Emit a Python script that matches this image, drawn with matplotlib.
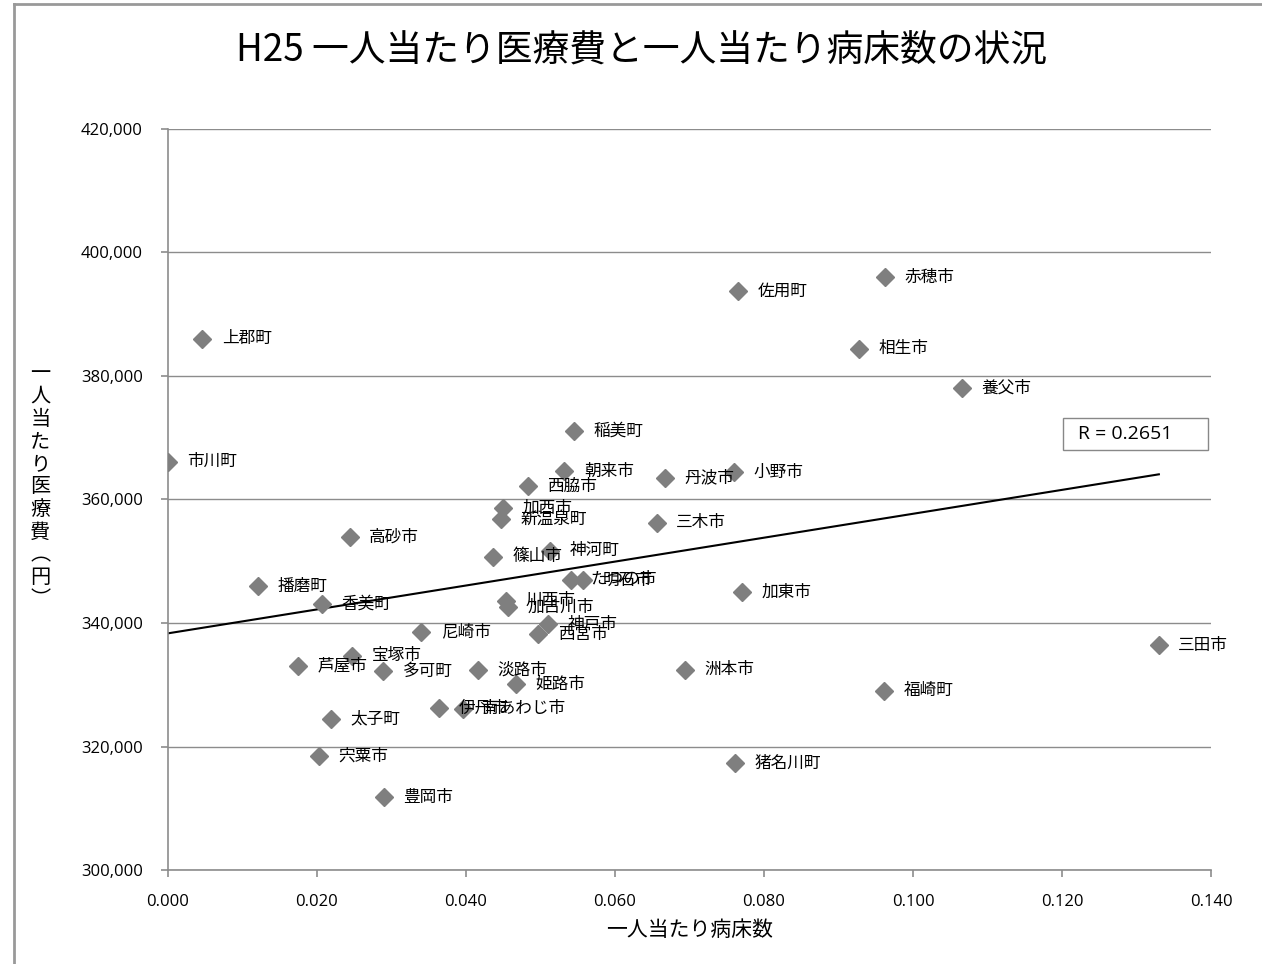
import numpy as np
import matplotlib
matplotlib.use('Agg')
import matplotlib.pyplot as plt
from matplotlib.lines import Line2D
from matplotlib.patches import Rectangle
from matplotlib.ticker import FuncFormatter

plt.rcParams['font.family'] = ['Noto Sans CJK JP', 'DejaVu Sans']

# data: beds per person, medical cost per person (yen)
towns = ['上郡町', '市川町', '播磨町', '香美町', '高砂市', '芦屋市', '宝塚市', '多可町',
         '太子町', '宍粟市', '豊岡市', '尼崎市', '伊丹市', '南あわじ市', '淡路市', '姫路市',
         '篠山市', '加西市', '新温泉町', '西脇市', '朝来市', '稲美町', '神河町', 'たつの市',
         '明石市', '川西市', '加古川市', '神戸市', '西宮市', '丹波市', '小野市', '三木市',
         '加東市', '洲本市', '佐用町', '赤穂市', '相生市', '養父市', '福崎町', '猪名川町', '三田市']
beds = [0.0046, 0.0000, 0.0121, 0.0207, 0.0244, 0.0175, 0.0247, 0.0289,
        0.0219, 0.0203, 0.0290, 0.0340, 0.0364, 0.0396, 0.0416, 0.0467,
        0.0436, 0.0450, 0.0447, 0.0483, 0.0532, 0.0545, 0.0513, 0.0541,
        0.0557, 0.0454, 0.0456, 0.0510, 0.0497, 0.0667, 0.0760, 0.0656,
        0.0770, 0.0694, 0.0765, 0.0962, 0.0928, 0.1066, 0.0961, 0.0761, 0.1330]
cost = [386000, 366100, 346000, 343100, 353900, 333000, 334700, 332200,
        324500, 318500, 311800, 338500, 326200, 326100, 332400, 330100,
        350700, 358600, 356800, 362200, 364600, 371100, 351700, 347000,
        346900, 343600, 342600, 339800, 338200, 363500, 364400, 356200,
        345000, 332400, 393800, 396000, 384400, 378100, 329000, 317300, 336400]
r_label = 'R = 0.2651'

fig = plt.figure(figsize=(12.62, 9.64), dpi=100)
ax = fig.add_axes([0.1331, 0.0975, 0.8265, 0.7687])

ax.plot(beds, cost, linestyle='none', marker='D', markersize=9,
        color='#7f7f7f', zorder=3)
for name, x, y in zip(towns, beds, cost):
    ax.annotate(name, (x, y), xytext=(14, 0), textcoords='offset points',
                va='center', ha='left', fontsize=12, zorder=4)

# linear trendline
slope, icpt = np.polyfit(beds, cost, 1)
xs = np.array([0, max(beds)])
ax.plot(xs, icpt + slope * xs, color='black', lw=1.5, zorder=2)

# R box
ax.add_patch(Rectangle((0.858, 0.567), 0.139, 0.043, transform=ax.transAxes,
                       fc='white', ec='#888888', lw=1, zorder=5, clip_on=False))
ax.text(0.872, 0.5885, r_label, transform=ax.transAxes, fontsize=14,
        family=['Open Sans', 'DejaVu Sans'], ha='left', va='center', zorder=6)

ax.set_xlim(0, 0.14)
ax.set_ylim(300000, 420000)
ax.set_xticks(np.arange(0, 0.1401, 0.02))
ax.set_yticks(np.arange(300000, 420001, 20000))
ax.xaxis.set_major_formatter(FuncFormatter(lambda v, p: f'{v:.3f}'))
ax.yaxis.set_major_formatter(FuncFormatter(lambda v, p: f'{v:,.0f}'))
ax.grid(axis='y', color='#8c8c8c', lw=1)
ax.set_axisbelow(True)
for s in ['top', 'right']:
    ax.spines[s].set_visible(False)
for s in ['left', 'bottom']:
    ax.spines[s].set_color('#8c8c8c')
    ax.spines[s].set_linewidth(1.2)
ax.tick_params(colors='#8c8c8c', length=5, width=1.2, labelcolor='black', labelsize=12)
ax.tick_params(axis='y', pad=13)
ax.tick_params(axis='x', pad=12)
for lab in ax.get_xticklabels() + ax.get_yticklabels():
    lab.set_family(['Open Sans', 'DejaVu Sans'])

ax.set_xlabel('一人当たり病床数', fontsize=15, labelpad=7)
fig.text(0.032, 0.495, '\n'.join('一人当たり医療費︵円︶'), fontsize=14.5,
         ha='center', va='center', linespacing=1.1)

fig.text(0.508, 0.947, 'H25 一人当たり医療費と一人当たり病床数の状況', fontsize=26.5,
         ha='center', va='center')

# chart frame
fig.add_artist(Line2D([0.011, 0.011], [0, 0.996], color='#999999', lw=2))
fig.add_artist(Line2D([0.011, 1], [0.996, 0.996], color='#999999', lw=2))

fig.savefig('out.png', dpi=100, facecolor='white')
